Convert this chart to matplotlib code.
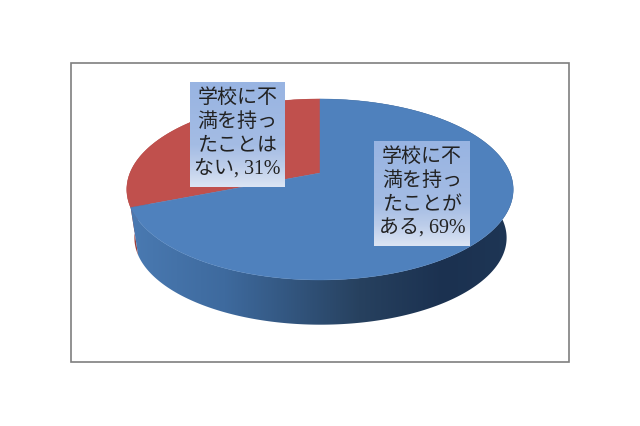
import matplotlib
matplotlib.use("Agg")
import matplotlib.pyplot as plt
from matplotlib.colors import LinearSegmentedColormap
from matplotlib.patches import Polygon, Rectangle
import numpy as np

shares = [69, 31]
labels = ["学校に不\n満を持っ\nたことが\nある, 69%", "学校に不\n満を持っ\nたことは\nない, 31%"]
top_colors = ["#4F81BD", "#C0504D"]
side_colors = ["#4F81BD", "#9C3D3A"]

plt.rcParams['font.family'] = ['Liberation Serif', 'Noto Sans CJK JP']

# pie is tilted, so the circle goes through a small perspective map
def project(theta, cx, cy, kx, ky, c=-0.182):
    u = np.sin(theta)
    v = -np.cos(theta)
    d = 1 + c * v
    return cx + kx * u / d, cy + ky * v / d

def top_edge(t):
    return project(t, 320, 173, 190, 87.5)

def bottom_edge(t):
    return project(t, 320.5, 222, 183, 84)

fig = plt.figure(figsize=(6.4, 4.26), dpi=100)
ax = fig.add_axes([0, 0, 1, 1])

side_cmap = LinearSegmentedColormap.from_list(
    "side", [(0, "#4A7AB2"), (0.25, "#3E6A9E"), (0.6, "#27415F"),
             (0.82, "#1B3150"), (1, "#1E3655")])
box_cmap = LinearSegmentedColormap.from_list(
    "box", [(0, "#98B4E2"), (0.6, "#A4BCE4"), (0.8, "#BCCDEA"), (1, "#DCE5F4")])

# angles run clockwise from the top, first slice first
fracs = np.cumsum([0] + shares) / sum(shares) * 2 * np.pi
order = [1, 0]  # red goes behind blue

for i in order:
    t = np.linspace(fracs[i], fracs[i + 1], 300)
    tx, ty = top_edge(t)
    bx, by = bottom_edge(t)
    wall = np.column_stack([np.r_[tx, bx[::-1]], np.r_[ty, by[::-1]]])
    if i == 0:
        poly = Polygon(wall, closed=True, fc="none", ec="none", transform=ax.transData)
        ax.add_patch(poly)
        grad = np.linspace(0, 1, 256).reshape(1, -1)
        im = ax.imshow(grad, cmap=side_cmap, extent=[128, 514, 340, 90],
                       aspect="auto", zorder=1)
        im.set_clip_path(poly)
    else:
        ax.add_patch(Polygon(wall, closed=True, fc=side_colors[i], ec="none", zorder=1))

for i in order:
    t = np.linspace(fracs[i], fracs[i + 1], 300)
    tx, ty = top_edge(t)
    pts = np.column_stack([np.r_[320, tx], np.r_[173, ty]])
    ax.add_patch(Polygon(pts, closed=True, fc=top_colors[i], ec=top_colors[i], lw=0.3, zorder=2))

# label boxes
boxes = [(374, 470, 141, 246), (190, 285, 82, 187)]
for lab, (x0, x1, y0, y1) in zip(labels, boxes):
    ax.imshow(np.linspace(0, 1, 256).reshape(-1, 1), cmap=box_cmap,
              extent=[x0, x1, y1, y0], aspect="auto", zorder=3)
    ax.text((x0 + x1) / 2, (y0 + y1) / 2, lab, ha="center", va="center",
            fontsize=14.4, color="#222222", linespacing=1.34, zorder=4)

ax.add_patch(Rectangle((71, 63), 498, 299, fc="none", ec="#7F7F7F", lw=1.2, zorder=5))

ax.set_xlim(0, 640)
ax.set_ylim(426, 0)
ax.axis("off")

fig.savefig("out.png", dpi=100, facecolor="white")
